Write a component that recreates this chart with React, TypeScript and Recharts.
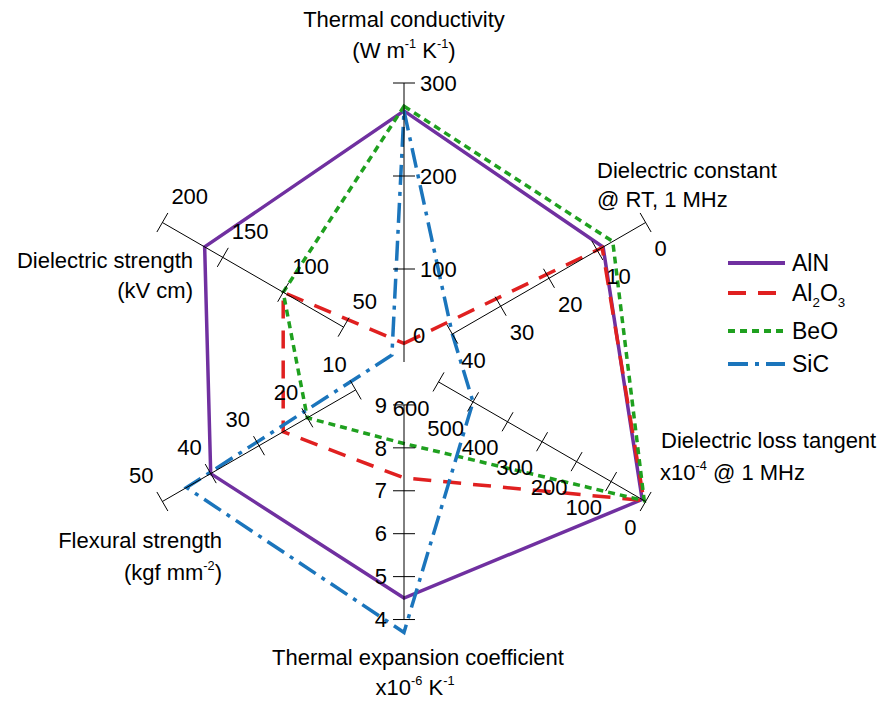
import React from "react";
import { Legend, PolarAngleAxis, PolarRadiusAxis, Radar, RadarChart } from "recharts";

type Part = [string, "n" | "sup" | "sub"];

const categories = [
  "Thermal conductivity",
  "Dielectric constant",
  "Dielectric loss tangent",
  "Thermal expansion coefficient",
  "Flexural strength",
  "Dielectric strength",
];

// each spoke has its own scale: value at the centre, value at the outer end
const axisCenter = [0, 50, 700, 10, 0, 0];
const axisOuter = [300, 0, 0, 3.5, 50, 200];

const tickValues = [
  [0, 100, 200, 300],
  [40, 30, 20, 10, 0],
  [600, 500, 400, 300, 200, 100, 0],
  [9, 8, 7, 6, 5, 4],
  [10, 20, 30, 40, 50],
  [50, 100, 150, 200],
];

const alnValues = [270, 8.8, 10, 4.5, 40, 165];
const al2o3Values = [20, 9, 5, 7.3, 25, 100];
const beoValues = [275, 6.8, 4, 8.1, 20, 100];
const sicValues = [270, 40, 500, 3.7, 45, 10];

const FONT = "'Liberation Sans', Arial, sans-serif";
const FS = 22;
const CX = 404;
const CY = 362;
const R = 279;
const ANGLES = [90, 30, -30, -90, -150, -210];

const series = [
  { key: "AlN", label: [["AlN", "n"]] as Part[], values: alnValues, color: "#7030A0", dash: undefined },
  { key: "Al2O3", label: [["Al", "n"], ["2", "sub"], ["O", "n"], ["3", "sub"]] as Part[], values: al2o3Values, color: "#E02020", dash: "18 12" },
  { key: "BeO", label: [["BeO", "n"]] as Part[], values: beoValues, color: "#1FA01F", dash: "7 5" },
  { key: "SiC", label: [["SiC", "n"]] as Part[], values: sicValues, color: "#1B75BC", dash: "20 7 4 7" },
];

const norm = (v: number, i: number) => (v - axisCenter[i]) / (axisOuter[i] - axisCenter[i]);

const rows = categories.map((axis, i) => {
  const row: Record<string, number | string> = { axis };
  series.forEach((s) => {
    row[s.key] = norm(s.values[i], i);
  });
  return row;
});

// label layout for the spoke names, offsets from the centre
const axisLabels: { anchor: "start" | "middle" | "end"; lines: { dx: number; dy: number; parts: Part[] }[] }[] = [
  {
    anchor: "middle",
    lines: [
      { dx: 0, dy: -335, parts: [["Thermal conductivity", "n"]] },
      { dx: 0, dy: -304, parts: [["(W m", "n"], ["-1", "sup"], [" K", "n"], ["-1", "sup"], [")", "n"]] },
    ],
  },
  {
    anchor: "start",
    lines: [
      { dx: 193, dy: -184, parts: [["Dielectric constant", "n"]] },
      { dx: 193, dy: -155, parts: [["@ RT, 1 MHz", "n"]] },
    ],
  },
  {
    anchor: "start",
    lines: [
      { dx: 257, dy: 86, parts: [["Dielectric loss tangent", "n"]] },
      { dx: 256, dy: 118, parts: [["x10", "n"], ["-4", "sup"], [" @ 1 MHz", "n"]] },
    ],
  },
  {
    anchor: "middle",
    lines: [
      { dx: 14, dy: 303, parts: [["Thermal expansion coefficient", "n"]] },
      { dx: 11, dy: 333, parts: [["x10", "n"], ["-6", "sup"], [" K", "n"], ["-1", "sup"]] },
    ],
  },
  {
    anchor: "end",
    lines: [
      { dx: -182, dy: 186, parts: [["Flexural strength", "n"]] },
      { dx: -182, dy: 218, parts: [["(kgf mm", "n"], ["-2", "sup"], [")", "n"]] },
    ],
  },
  {
    anchor: "end",
    lines: [
      { dx: -211, dy: -94, parts: [["Dielectric strength", "n"]] },
      { dx: -211, dy: -64, parts: [["(kV cm)", "n"]] },
    ],
  },
];

// where the numbers sit relative to each tick
const tickLabelPos: { anchor: "start" | "end"; dx: number; dy: number }[] = [
  { anchor: "start", dx: 16, dy: 0 },
  { anchor: "start", dx: 9, dy: 26 },
  { anchor: "end", dx: -9, dy: 26 },
  { anchor: "end", dx: -17, dy: 0 },
  { anchor: "end", dx: -9, dy: -26 },
  { anchor: "start", dx: 9, dy: -26 },
];

function Rich({ parts, size }: { parts: Part[]; size: number }) {
  let shift = 0;
  return (
    <>
      {parts.map(([t, k], j) => {
        const target = k === "sup" ? -size * 0.45 : k === "sub" ? size * 0.28 : 0;
        const dy = target - shift;
        shift = target;
        return (
          <tspan key={j} dy={dy} fontSize={k === "n" ? size : size * 0.58}>
            {t}
          </tspan>
        );
      })}
    </>
  );
}

function AngleLabel(props: any) {
  const spec = axisLabels[props.index];
  if (!spec) return null;
  return (
    <g>
      {spec.lines.map((ln, j) => (
        <text key={j} x={CX + ln.dx} y={CY + ln.dy} textAnchor={spec.anchor} fontFamily={FONT} fill="#000">
          <Rich parts={ln.parts} size={FS} />
        </text>
      ))}
    </g>
  );
}

function makeRadiusTick(i: number) {
  return (props: any) => {
    const { x, y, payload } = props;
    const t = payload.value as number;
    const val = Math.round((axisCenter[i] + t * (axisOuter[i] - axisCenter[i])) * 10) / 10;
    const a = (ANGLES[i] * Math.PI) / 180;
    const px = Math.sin(a);
    const py = Math.cos(a);
    const pos = tickLabelPos[i];
    const atCenter = t < 0.001;
    const lx = atCenter ? x + 9 : x + pos.dx;
    const ly = atCenter ? y - 27 : y + pos.dy;
    return (
      <g>
        {!atCenter && (
          <line x1={x - px * 11} y1={y - py * 11} x2={x + px * 11} y2={y + py * 11} stroke="#000" strokeWidth={1} />
        )}
        <text x={lx} y={ly} dy="0.35em" textAnchor={atCenter ? "start" : pos.anchor} fontFamily={FONT} fontSize={FS} fill="#000">
          {val}
        </text>
      </g>
    );
  };
}

function LegendBox() {
  const ys = [23, 53, 91, 124];
  return (
    <svg width={162} height={150}>
      {series.map((s, j) => (
        <g key={s.key}>
          <line x1={8} x2={65} y1={ys[j]} y2={ys[j]} stroke={s.color} strokeWidth={4} strokeDasharray={s.dash} />
          <text x={72} y={ys[j] + 8} fontFamily={FONT} fill="#000">
            <Rich parts={s.label} size={FS + 1} />
          </text>
        </g>
      ))}
    </svg>
  );
}

export default function App() {
  return (
    <div style={{ position: "absolute", left: 0, top: 0, width: 882, height: 702 }}>
      <RadarChart
        width={882}
        height={702}
        data={rows}
        cx={CX}
        cy={CY}
        outerRadius={R}
        margin={{ top: 0, right: 0, bottom: 0, left: 0 }}
      >
        <PolarAngleAxis dataKey="axis" tick={(p: any) => <AngleLabel {...p} />} tickLine={false} axisLine={false} />
        {ANGLES.map((ang, i) => (
          <PolarRadiusAxis
            key={i}
            radiusAxisId={`r${i}`}
            angle={ang}
            type="number"
            domain={[0, 1]}
            allowDataOverflow
            ticks={tickValues[i].map((v) => norm(v, i))}
            tick={makeRadiusTick(i)}
            stroke="#000"
            axisLine={{ stroke: "#000", strokeWidth: 1 }}
          />
        ))}
        {series.map((s) => (
          <Radar
            key={s.key}
            name={s.key}
            dataKey={s.key}
            radiusAxisId="r0"
            stroke={s.color}
            strokeWidth={3.5}
            strokeDasharray={s.dash}
            fill="none"
            fillOpacity={0}
            dot={false}
            isAnimationActive={false}
          />
        ))}
        <Legend
          content={() => <LegendBox />}
          wrapperStyle={{ position: "absolute", left: 720, top: 240, width: 162, height: 150 }}
        />
      </RadarChart>
    </div>
  );
}
